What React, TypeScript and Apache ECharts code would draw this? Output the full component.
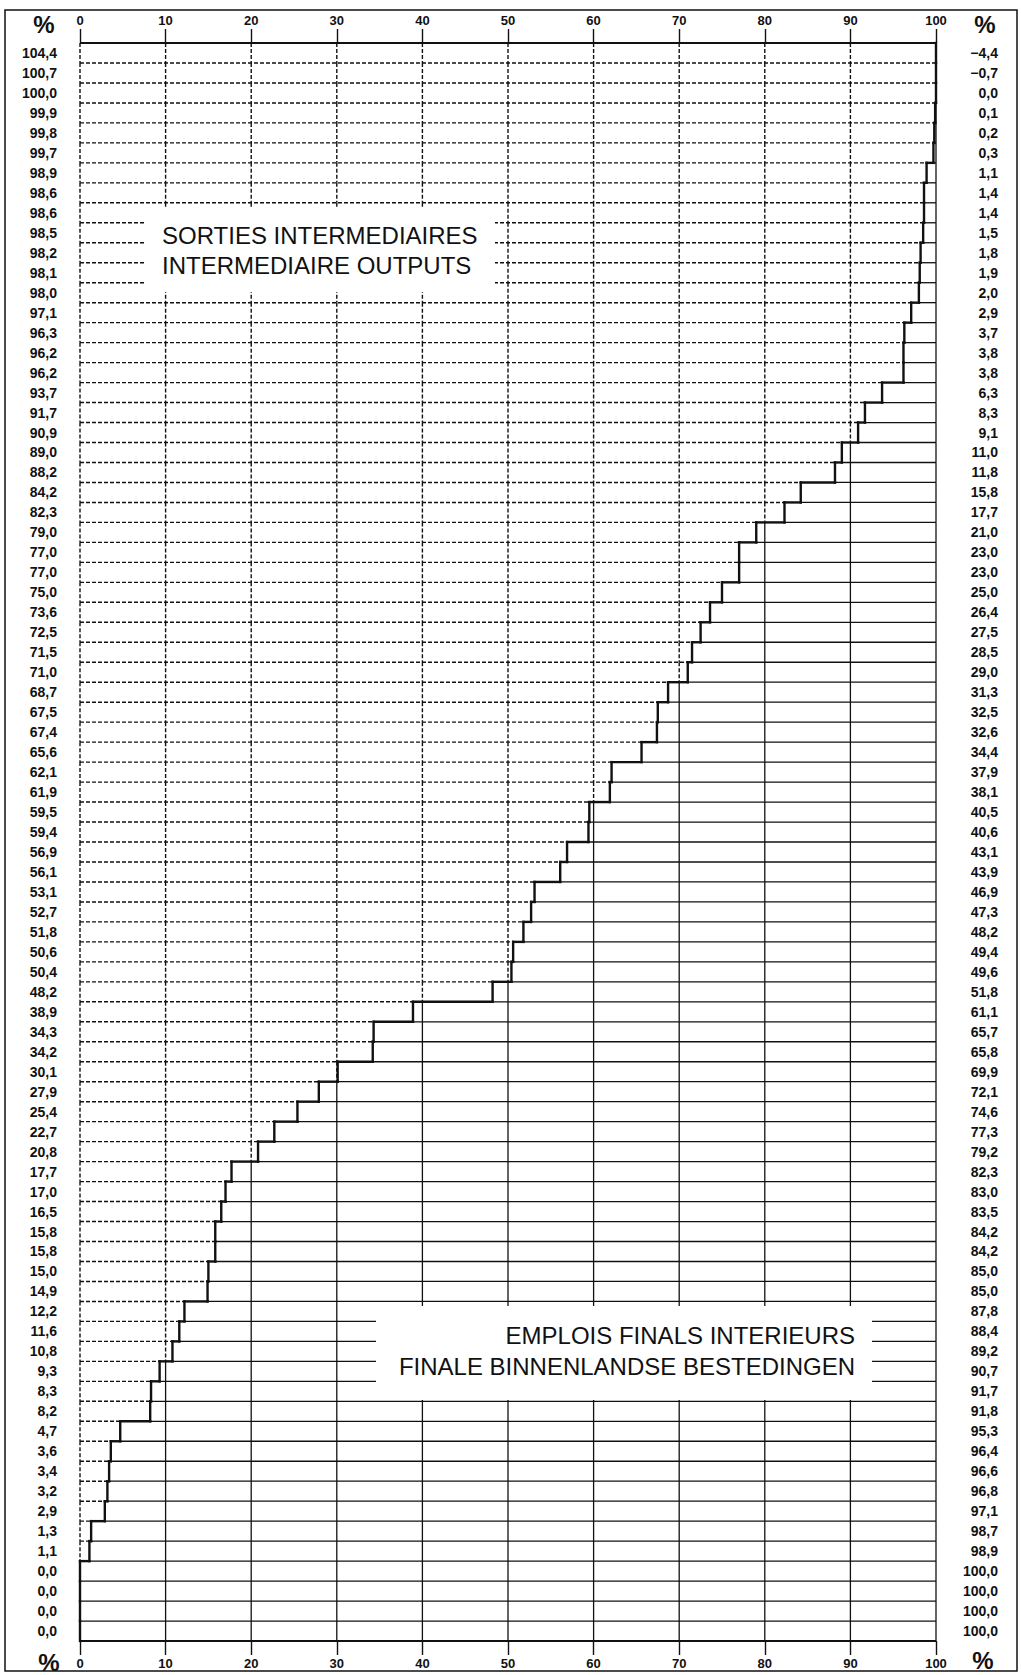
import React, { useEffect, useRef } from "react";
import * as echarts from "echarts";

// Intermediate outputs (% of total resources), one value per product row (left scale)
const intermediateOutputs = [
  104.4, 100.7, 100.0, 99.9, 99.8, 99.7, 98.9, 98.6, 98.6, 98.5,
  98.2, 98.1, 98.0, 97.1, 96.3, 96.2, 96.2, 93.7, 91.7, 90.9,
  89.0, 88.2, 84.2, 82.3, 79.0, 77.0, 77.0, 75.0, 73.6, 72.5,
  71.5, 71.0, 68.7, 67.5, 67.4, 65.6, 62.1, 61.9, 59.5, 59.4,
  56.9, 56.1, 53.1, 52.7, 51.8, 50.6, 50.4, 48.2, 38.9, 34.3,
  34.2, 30.1, 27.9, 25.4, 22.7, 20.8, 17.7, 17.0, 16.5, 15.8,
  15.8, 15.0, 14.9, 12.2, 11.6, 10.8, 9.3, 8.3, 8.2, 4.7,
  3.6, 3.4, 3.2, 2.9, 1.3, 1.1, 0.0, 0.0, 0.0, 0.0,
];

// Final domestic uses (% of total resources), right scale
const finalUses = [
  -4.4, -0.7, 0.0, 0.1, 0.2, 0.3, 1.1, 1.4, 1.4, 1.5,
  1.8, 1.9, 2.0, 2.9, 3.7, 3.8, 3.8, 6.3, 8.3, 9.1,
  11.0, 11.8, 15.8, 17.7, 21.0, 23.0, 23.0, 25.0, 26.4, 27.5,
  28.5, 29.0, 31.3, 32.5, 32.6, 34.4, 37.9, 38.1, 40.5, 40.6,
  43.1, 43.9, 46.9, 47.3, 48.2, 49.4, 49.6, 51.8, 61.1, 65.7,
  65.8, 69.9, 72.1, 74.6, 77.3, 79.2, 82.3, 83.0, 83.5, 84.2,
  84.2, 85.0, 85.0, 87.8, 88.4, 89.2, 90.7, 91.7, 91.8, 95.3,
  96.4, 96.6, 96.8, 97.1, 98.7, 98.9, 100.0, 100.0, 100.0, 100.0,
];

const xTicks = [0, 10, 20, 30, 40, 50, 60, 70, 80, 90, 100];
const titleTop = ["SORTIES INTERMEDIAIRES", "INTERMEDIAIRE OUTPUTS"];
const titleBottom = ["EMPLOIS FINALS INTERIEURS", "FINALE BINNENLANDSE BESTEDINGEN"];

const rowIds = intermediateOutputs.map((_, i) => String(i));
const FONT = "'Liberation Sans', Arial, Helvetica, sans-serif";
const INK = "#111";

const fmt = (v: number) =>
  (v < 0 ? "\u2212" : "") + Math.abs(v).toFixed(1).replace(".", ",");

export default function App() {
  const ref = useRef<HTMLDivElement>(null);

  useEffect(() => {
    if (!ref.current) return;
    const chart = echarts.init(ref.current, null, { renderer: "svg" });

    const data = intermediateOutputs.map((v, i) => [
      i,
      Math.min(v, 100),
      i === 0 ? 100 : Math.min(intermediateOutputs[i - 1], 100),
    ]);

    const solid = { stroke: INK, lineWidth: 1.3, fill: null };
    const dashed = { stroke: INK, lineWidth: 1.4, lineDash: [4, 2], fill: null };
    const stepStyle = { stroke: INK, lineWidth: 2.4, fill: null, lineCap: "square" };

    const renderItem = (params: any, api: any) => {
      const i = api.value(0);
      const s = api.value(1);
      const prev = api.value(2);
      const c = api.coord([0, i]);
      const h = api.size([0, 1])[1];
      const top = c[1] - h / 2;
      const bot = c[1] + h / 2;
      const X = (v: number) => api.coord([v, i])[0];
      const children: any[] = [];
      const seg = (x1: number, y1: number, x2: number, y2: number, style: any) =>
        children.push({ type: "line", shape: { x1, y1, x2, y2 }, style });

      // vertical grid lines: dashed left of the step, solid right of it
      for (const g of xTicks) {
        if (g === 100) continue;
        seg(X(g), top, X(g), bot, g < s ? dashed : solid);
      }
      // right border
      seg(X(100), top, X(100), bot, solid);

      // top boundary of the row
      if (i === 0) {
        seg(X(0), top, X(100), top, { ...solid, lineWidth: 2.2 });
      } else {
        const a = Math.min(prev, s);
        const b = Math.max(prev, s);
        if (a > 0) seg(X(0), top, X(a), top, dashed);
        if (b < 100) seg(X(b), top, X(100), top, solid);
        if (b > a) seg(X(a), top, X(b), top, stepStyle);
      }
      // bottom boundary of the last row
      if (i === intermediateOutputs.length - 1) {
        seg(X(0), bot, X(100), bot, { ...solid, lineWidth: 1.8 });
      }
      // vertical step segment
      seg(X(s), top, X(s), bot, stepStyle);

      return { type: "group", children };
    };

    const xAxisCommon = {
      type: "value",
      min: 0,
      max: 100,
      interval: 10,
      axisLine: { show: false },
      splitLine: { show: false },
      axisTick: { show: true, length: 14, lineStyle: { color: INK, width: 1.4 } },
      axisLabel: {
        color: INK,
        fontFamily: FONT,
        fontWeight: "bold",
        fontSize: 13,
        margin: 16,
      },
    };

    const pct = (x: number, y: number) => ({
      type: "text",
      x,
      y,
      z: 20,
      style: {
        text: "%",
        fill: INK,
        font: `bold 24px ${FONT}`,
        textAlign: "center",
        textVerticalAlign: "middle",
      },
    });

    const boxText = (lines: string[], x: number, y0: number, gap: number, align: string) =>
      lines.map((t, k) => ({
        type: "text",
        x,
        y: y0 + k * gap,
        z: 31,
        style: {
          text: t,
          fill: INK,
          font: `24px ${FONT}`,
          textAlign: align,
          textVerticalAlign: "middle",
        },
      }));

    chart.setOption({
      animation: false,
      backgroundColor: "#fff",
      grid: { left: 80, right: 85, top: 43, height: 1598 },
      xAxis: [
        { ...xAxisCommon, position: "top" },
        { ...xAxisCommon, position: "bottom" },
      ],
      yAxis: [
        {
          type: "category",
          data: rowIds,
          inverse: true,
          position: "left",
          axisLine: { show: false },
          axisTick: { show: false },
          splitLine: { show: false },
          axisLabel: {
            interval: 0,
            margin: 23,
            color: INK,
            fontFamily: FONT,
            fontWeight: "bold",
            fontSize: 14,
            formatter: (_: string, idx: number) => fmt(intermediateOutputs[idx]),
          },
        },
        {
          type: "category",
          data: rowIds,
          inverse: true,
          position: "right",
          axisLine: { show: false },
          axisTick: { show: false },
          splitLine: { show: false },
          axisLabel: {
            interval: 0,
            margin: 62,
            align: "right",
            color: INK,
            fontFamily: FONT,
            fontWeight: "bold",
            fontSize: 14,
            formatter: (_: string, idx: number) => fmt(finalUses[idx]),
          },
        },
      ],
      series: [
        {
          type: "custom",
          xAxisIndex: 0,
          yAxisIndex: 0,
          renderItem,
          encode: { x: 1, y: 0 },
          data,
          clip: false,
          silent: true,
        },
      ],
      graphic: [
        {
          type: "rect",
          z: 1,
          shape: { x: 5, y: 10, width: 1012, height: 1661 },
          style: { fill: null, stroke: INK, lineWidth: 1.5 },
        },
        pct(44, 24),
        pct(985, 24),
        pct(49, 1662),
        pct(983, 1660),
        {
          type: "rect",
          z: 30,
          shape: { x: 145, y: 207, width: 350, height: 85 },
          style: { fill: "#fff", stroke: null },
        },
        ...boxText(titleTop, 162, 235, 30, "left"),
        {
          type: "rect",
          z: 30,
          shape: { x: 376, y: 1306, width: 496, height: 94 },
          style: { fill: "#fff", stroke: null },
        },
        ...boxText(titleBottom, 855, 1335, 31, "right"),
      ],
    });

    return () => chart.dispose();
  }, []);

  return (
    <div
      ref={ref}
      style={{ position: "absolute", left: 0, top: 0, width: 1021, height: 1675 }}
    />
  );
}
